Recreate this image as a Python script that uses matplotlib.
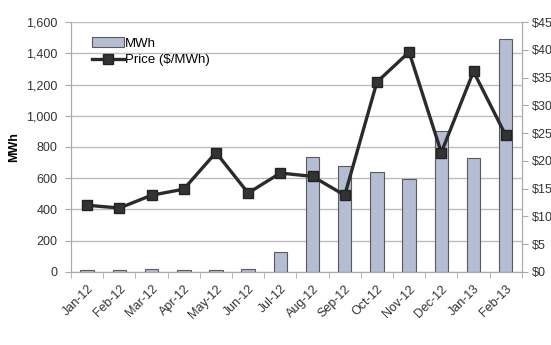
import matplotlib
matplotlib.use("Agg")
import matplotlib.pyplot as plt
import numpy as np

plt.rcParams['font.family'] = ['Liberation Sans', 'DejaVu Sans']

months = ['Jan-12', 'Feb-12', 'Mar-12', 'Apr-12', 'May-12', 'Jun-12', 'Jul-12',
          'Aug-12', 'Sep-12', 'Oct-12', 'Nov-12', 'Dec-12', 'Jan-13', 'Feb-13']
mwh = [15, 12, 16, 10, 12, 18, 125, 735, 680, 640, 595, 905, 730, 1490]
price = [12.0, 11.5, 13.8, 14.9, 21.5, 14.2, 17.8, 17.2, 13.8, 34.2, 39.6, 21.5, 36.1, 24.6]

x = np.arange(len(months))

fig = plt.figure(figsize=(5.51, 3.45), dpi=100)
ax = fig.add_axes([0.129, 0.212, 0.818, 0.724])
ax2 = ax.twinx()

ax.bar(x, mwh, width=0.42, color='#b5bdd3', edgecolor='#5a5a5a', linewidth=0.8,
       label='MWh', zorder=2)
ax2.plot(x, price, color='#2b2b2b', linewidth=2.4, marker='s', markersize=7.5,
         markerfacecolor='#333333', markeredgecolor='#222222', label='Price ($/MWh)',
         zorder=3)

ax.set_xlim(-0.5, len(months) - 0.5)
ax.set_ylim(0, 1600)
ax.set_yticks(range(0, 1601, 200))
ax.set_yticklabels([f'{v:,}' for v in range(0, 1601, 200)])
ax2.set_ylim(0, 45)
ax2.set_yticks(range(0, 46, 5))
ax2.set_yticklabels([f'${v}' for v in range(0, 46, 5)])

ax.grid(axis='y', color='#bdbdbd', linewidth=1.0, zorder=0)
ax.set_axisbelow(True)

ax.set_xticks(x)
ax.set_xticklabels(months, rotation=45, ha='right', rotation_mode='anchor')
ax.set_xticks(np.arange(-0.5, len(months), 1), minor=True)
ax.tick_params(axis='x', which='major', length=0, pad=8, labelsize=9, labelcolor='#333333')
ax.tick_params(axis='x', which='minor', length=4, color='#aaaaaa')
ax.tick_params(axis='y', length=4, color='#aaaaaa', labelsize=9, labelcolor='#333333', pad=6)
ax2.tick_params(axis='y', length=4, color='#aaaaaa', labelsize=9, labelcolor='#333333', pad=3)

for a in (ax, ax2):
    a.spines['top'].set_visible(False)
    a.spines['left'].set_color('#aaaaaa')
    a.spines['right'].set_color('#aaaaaa')
    a.spines['bottom'].set_color('#aaaaaa')

ax.set_ylabel('MWh', fontweight='bold', fontsize=9, labelpad=4)

h1, l1 = ax.get_legend_handles_labels()
h2, l2 = ax2.get_legend_handles_labels()
ax2.legend(h1 + h2, l1 + l2, loc='upper left', bbox_to_anchor=(0.035, 0.96),
           frameon=False, fontsize=9.5, handlelength=2.4, handletextpad=0.1,
           labelspacing=0.35, borderaxespad=0)

fig.savefig('out.png', dpi=100)
